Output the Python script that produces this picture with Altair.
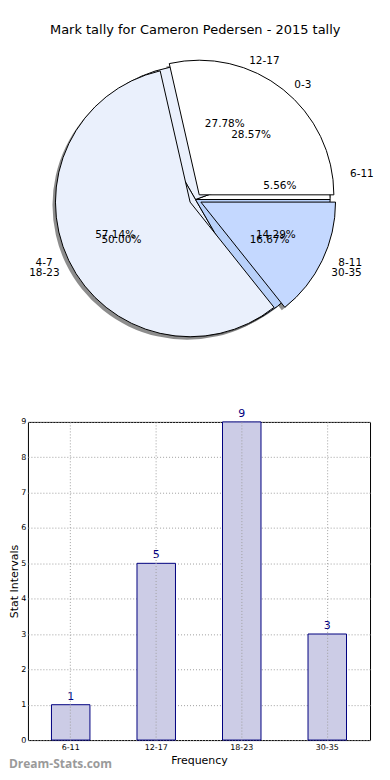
import altair as alt
import pandas as pd

TITLE = "Mark tally for Cameron Pedersen - 2015 tally"

# Front pie (exploded)
pie1_labels = ["0-3", "4-7", "8-11"]
pie1_counts = [2, 4, 1]
pie1_colors = ["#ffffff", "#eaf0fc", "#c4d8ff"]

# Back pie
pie2_labels = ["6-11", "12-17", "18-23", "30-35"]
pie2_counts = [1, 5, 9, 3]
pie2_colors = ["#ffffff", "#eaf0fc", "#eaf0fc", "#b9d1fa"]

# Bar chart
bar_categories = ["6-11", "12-17", "18-23", "30-35"]
bar_values = [1, 5, 9, 3]
y_ticks = [0, 1, 2, 3, 4, 5, 6, 7, 8, 9]

FONT = "DejaVu Sans"
R = 135              # wedge radius (px)
PIE_W, PIE_H = 355, 348
CX, CY = 168, 157    # pie centre inside the pie panel


def pie_frame(labels, counts, colors):
    return pd.DataFrame({
        "label": labels,
        "n": counts,
        "color": colors,
        "idx": list(range(len(labels))),
    })


def base(df, ex, rxt, ryt):
    return (
        alt.Chart(df)
        .transform_joinaggregate(total="sum(n)")
        .transform_window(cum="sum(n)", sort=[alt.SortField("idx")], frame=[None, 0])
        .transform_calculate(
            a0="2*PI*(datum.cum - datum.n)/datum.total",
            a1="2*PI*datum.cum/datum.total",
        )
        .transform_calculate(
            am="(datum.a0 + datum.a1)/2",
            t0="2.5*PI - datum.a1",
            t1="2.5*PI - datum.a0",
            pct="format(100*datum.n/datum.total, '.2f') + '%'",
        )
        .transform_calculate(
            px=f"{CX} + {ex}*cos(datum.am)",
            py=f"{CY} - {ex}*sin(datum.am)",
        )
        .transform_calculate(
            lx=f"datum.px + 1.1*{rxt}*cos(datum.am)",
            ly=f"datum.py - 1.1*{ryt}*sin(datum.am)",
            qx=f"datum.px + 0.6*{rxt}*cos(datum.am)",
            qy=f"datum.py - 0.6*{ryt}*sin(datum.am)",
            side="cos(datum.am) > 0 ? 1 : 0",
        )
    )


def wedges(df, ex):
    return base(df, ex, R, R).mark_arc(radius=R, stroke="black", strokeWidth=1).encode(
        theta=alt.Theta("t0:Q", scale=None, stack=None),
        theta2="t1:Q",
        x=alt.X("px:Q", scale=None),
        y=alt.Y("py:Q", scale=None),
        fill=alt.Fill("color:N", scale=None),
    )


def shadow(df, ex):
    return base(df, ex, R, R).transform_calculate(
        sx="datum.px - 3", sy="datum.py + 3"
    ).mark_arc(radius=R, fill="#303030", opacity=0.55).encode(
        theta=alt.Theta("t0:Q", scale=None, stack=None),
        theta2="t1:Q",
        x=alt.X("sx:Q", scale=None),
        y=alt.Y("sy:Q", scale=None),
    )


def labels(df, ex, rxt, ryt):
    b = lambda: base(df, ex, rxt, ryt)
    txt = dict(baseline="middle", font=FONT, fontSize=10.5, color="black")
    right = b().transform_filter("datum.side == 1").mark_text(align="left", **txt).encode(
        x=alt.X("lx:Q", scale=None), y=alt.Y("ly:Q", scale=None), text="label:N")
    left = b().transform_filter("datum.side == 0").mark_text(align="right", **txt).encode(
        x=alt.X("lx:Q", scale=None), y=alt.Y("ly:Q", scale=None), text="label:N")
    pct = b().mark_text(align="center", **txt).encode(
        x=alt.X("qx:Q", scale=None), y=alt.Y("qy:Q", scale=None), text="pct:N")
    return [right, left, pct]


df1 = pie_frame(pie1_labels, pie1_counts, pie1_colors)
df2 = pie_frame(pie2_labels, pie2_counts, pie2_colors)
EX1, EX2 = 6, 0

pie = alt.layer(
    shadow(df2, EX2),
    shadow(df1, EX1),
    wedges(df2, EX2),
    wedges(df1, EX1),
    *labels(df2, EX2, 143, 134),
    *labels(df1, EX1, 139, 128),
).properties(width=PIE_W, height=PIE_H)

# ---------------- bar chart ----------------
BAR_W, BAR_H = 343, 319
bar_df = pd.DataFrame({"cat": bar_categories, "v": bar_values})

xenc = alt.X(
    "cat:N",
    sort=bar_categories,
    scale=alt.Scale(paddingInner=0.55, paddingOuter=0.275),
    axis=alt.Axis(
        title="Frequency", labelAngle=0, labelFont=FONT, labelFontSize=8,
        labelColor="black", labelPadding=3, titleFont=FONT, titleFontSize=11,
        titleFontWeight="normal", titleColor="black", titlePadding=3,
        ticks=False, domain=False, grid=True, gridDash=[1, 2],
        gridColor="#a0a0a0", bandPosition=0.5, zindex=1,
    ),
)
yenc = alt.Y(
    "v:Q",
    scale=alt.Scale(domain=[0, 9], nice=False),
    axis=alt.Axis(
        title="Stat Intervals", values=y_ticks, labelOverlap=False,
        labelFont=FONT, labelFontSize=8,
        labelColor="black", labelPadding=2, titleFont=FONT, titleFontSize=11,
        titleFontWeight="normal", titleColor="black", titlePadding=1,
        ticks=False, domain=False, grid=True, gridDash=[1, 2],
        gridColor="#a0a0a0", zindex=0,
    ),
)

bars = alt.Chart(bar_df).mark_bar(
    fill="#ccccE6", stroke="#000080", strokeWidth=1
).encode(x=xenc, y=yenc)

vals = alt.Chart(bar_df).mark_text(
    baseline="bottom", dy=-3, color="#000080", font=FONT, fontSize=11
).encode(x=xenc, y=yenc, text="v:Q")

wm = alt.Chart(pd.DataFrame({"t": ["Dream-Stats.com"]})).mark_text(
    align="left", baseline="middle", font="Open Sans", fontSize=12,
    fontWeight="bold", color="#9a9a9a"
).encode(x=alt.value(-19), y=alt.value(BAR_H + 24), text="t:N")

bar = alt.layer(bars, vals, wm).properties(
    width=BAR_W, height=BAR_H,
    view=alt.ViewBackground(stroke="black", strokeWidth=1),
)

chart = alt.vconcat(pie, bar, spacing=17).properties(
    title=alt.TitleParams(
        TITLE, font=FONT, fontSize=13, fontWeight="normal", color="black",
        anchor="middle", offset=6,
    ),
    padding={"top": 15, "left": 0, "right": 0, "bottom": 0},
).configure_view(stroke=None)

chart.save("out.html", embed_options={"renderer": "svg", "actions": False})
